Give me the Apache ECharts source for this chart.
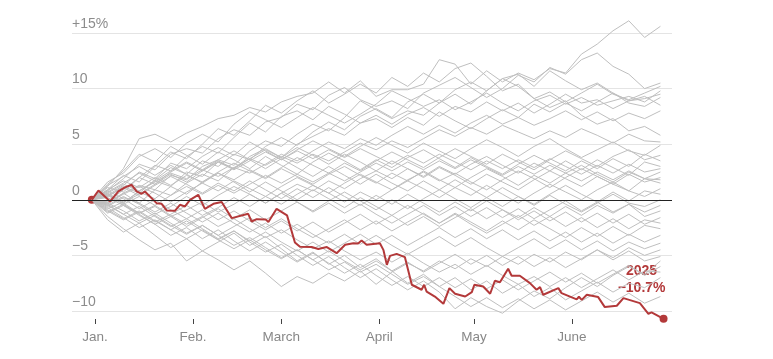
<!DOCTYPE html>
<html>
<head>
<meta charset="utf-8">
<style>html,body{margin:0;padding:0;background:#fff}#c{width:773px;height:359px}</style>
<script src="https://cdn.jsdelivr.net/npm/echarts@6/dist/echarts.min.js"></script>
</head>
<body>
<div id="c"></div>
<script>
// Day of year (0 = Dec 31 close, 1 = Jan 1)
const monthTickDays = [1, 32, 60, 91, 121, 152];
const monthLabels = ['Jan.', 'Feb.', 'March', 'April', 'May', 'June'];
const yTicks = [-10, -5, 0, 5, 10, 15];

// 2025 line
const redDays = [0,2.1,5.8,8.4,10.5,12.6,14.2,15.8,16.8,20.5,22.1,23.7,26.3,27.9,29.5,31.1,33.7,35.8,38.5,41.1,44.3,49.5,50.6,52.2,55.1,55.9,58.5,61.8,64.3,65.9,69.6,71.7,74.4,77.5,80.2,82.8,84.3,85.4,87.0,91.2,92.3,93.4,94.4,96.5,99.1,101.3,104.4,105.2,106.0,108.6,111.3,113.2,115.0,118.2,120.3,121.1,123.9,126.1,127.6,129.2,131.8,132.9,135.5,138.7,140.8,141.9,142.9,147.7,148.7,153.5,154.2,155.1,156.7,160.3,162.4,166.2,168.3,173.5,176.2,177.2,181];
const redValues = [0,0.84,-0.15,0.75,1.12,1.35,0.75,0.54,0.75,-0.3,-0.36,-0.96,-0.99,-0.45,-0.6,0,0.45,-0.81,-0.36,-0.2,-1.65,-1.26,-1.95,-1.74,-1.78,-2.0,-0.81,-1.4,-3.84,-4.23,-4.25,-4.43,-4.25,-4.8,-4.05,-3.9,-3.93,-3.66,-4.05,-3.9,-4.5,-5.85,-5.04,-4.86,-5.15,-7.64,-8.09,-7.64,-8.25,-8.7,-9.35,-7.94,-8.45,-8.7,-8.3,-7.64,-7.8,-8.45,-7.28,-7.42,-6.2,-6.83,-6.83,-7.49,-8.09,-7.85,-8.54,-7.94,-8.39,-8.95,-8.72,-9.0,-8.54,-8.75,-9.65,-9.53,-8.84,-9.29,-10.25,-10.13,-10.7];
const redYear = '2025';
const redFinal = -10.7;

// Earlier years, sampled every 5 days
const grayDays = [0,5,10,15,20,25,30,35,40,45,50,55,60,65,70,75,80,85,90,95,100,105,110,115,120,125,130,135,140,145,150,155,160,165,170,175,180];
const grayLines = [
[0,1.2,2.8,5.5,5.9,5.2,6.0,6.6,7.3,7.6,8.3,7.9,8.8,9.3,9.6,10.6,9.6,10.7,9.3,9.9,9.9,10.4,12.6,12.2,10.4,11.6,10.6,11.4,10.8,11.8,11.4,13.1,14.0,15.2,16.1,14.6,15.6],
[0,0.8,1.9,3.2,2.7,4.1,4.6,4.2,5.5,6.3,5.8,7.0,7.4,8.6,8.1,9.4,10.1,9.0,8.4,8.9,8.2,9.6,10.3,11.0,10.1,9.2,10.0,11.2,10.6,11.9,11.3,12.6,13.2,12.0,11.3,10.0,10.5],
[0,-0.4,0.6,1.3,0.9,2.2,1.8,3.0,3.6,3.1,4.4,5.3,4.8,5.9,6.8,6.2,7.4,8.9,8.1,7.3,8.0,7.6,8.7,9.5,8.6,9.8,10.9,10.2,9.1,9.7,8.8,9.6,10.4,9.5,9.0,9.6,10.2],
[0,1.6,2.4,3.9,4.6,3.8,5.1,5.9,5.2,6.8,7.9,7.2,6.5,7.4,8.3,7.6,6.9,7.7,8.6,9.8,9.1,8.4,9.0,8.1,8.8,9.6,8.7,8.0,8.9,9.4,8.6,9.2,8.5,8.9,9.3,8.8,9.8],
[0,0.5,-0.3,0.8,1.7,1.2,2.5,2.1,3.4,2.8,3.9,4.6,3.8,5.0,5.7,6.4,5.8,6.9,7.6,6.8,7.7,8.3,7.5,8.4,7.9,8.8,8.0,8.7,7.8,8.6,9.5,8.7,9.0,8.2,8.9,9.1,9.5],
[0,1.1,0.7,2.0,3.1,2.6,3.9,4.8,4.2,5.6,6.9,6.1,7.5,8.0,7.2,8.4,7.7,6.9,7.3,6.5,7.4,6.7,7.9,7.1,6.4,7.3,8.1,7.4,8.6,7.9,8.7,8.0,8.8,9.6,8.7,8.4,9.2],
[0,0.3,1.2,0.6,1.8,2.9,2.3,3.5,3.0,4.1,3.6,4.8,5.6,4.9,6.1,7.0,6.3,7.5,8.2,7.4,8.8,9.5,8.7,9.9,10.6,9.8,10.9,11.3,10.2,11.6,10.7,9.9,10.5,9.6,8.9,9.3,8.5],
[0,-0.6,0.2,-0.3,0.9,0.4,1.5,2.3,1.7,2.9,2.4,3.2,4.1,3.5,4.4,5.2,4.6,5.5,4.9,5.8,6.6,5.9,6.7,6.0,6.9,7.6,6.8,7.4,6.7,7.3,8.0,7.2,7.9,7.1,7.8,7.3,8.0],
[0,0.9,2.2,1.6,3.0,4.3,3.7,5.0,6.4,5.8,7.1,8.5,7.8,8.9,9.8,8.7,9.5,10.4,9.6,11.0,10.2,11.4,10.6,11.8,12.3,11.1,9.8,10.4,9.1,8.3,8.9,7.6,6.8,7.3,6.2,6.6,5.8],
[0,0.4,1.3,2.5,1.9,3.3,2.8,3.9,4.7,4.0,5.2,4.4,3.6,4.5,5.3,4.6,3.9,4.8,5.6,4.9,4.2,5.1,4.4,3.7,4.6,5.4,4.7,3.9,4.8,5.5,4.6,3.8,4.5,5.2,4.4,4.0,4.9],
[0,-0.8,-0.2,0.7,0.1,1.2,0.5,1.6,2.4,1.8,2.7,2.0,2.9,3.8,3.1,2.4,3.3,2.6,3.5,4.3,3.6,2.9,3.8,4.6,3.9,3.2,4.1,3.4,2.7,3.6,4.4,3.7,3.0,3.9,4.5,3.6,4.0],
[0,1.4,2.6,4.1,3.4,4.8,4.0,3.2,4.3,3.6,2.8,3.9,3.1,2.3,3.4,4.2,3.5,2.7,3.6,2.9,3.8,4.5,3.7,2.9,3.8,3.0,2.3,3.2,4.0,3.3,2.6,3.5,2.8,3.7,3.0,4.1,3.5],
[0,0.2,-0.5,-1.2,-0.6,-1.5,-0.9,-0.2,-1.1,-0.4,0.5,-0.3,0.6,1.4,0.8,1.7,1.0,1.9,2.6,1.9,2.8,2.1,3.0,2.3,3.2,3.9,3.1,2.4,3.3,2.6,3.5,2.7,3.6,2.9,2.2,3.4,3.0],
[0,0.9,1.7,1.1,2.0,1.3,2.2,1.6,2.5,3.3,2.6,1.9,2.8,2.1,1.4,2.3,3.0,2.2,1.5,2.4,1.7,2.6,1.8,1.1,2.0,2.8,2.1,1.3,2.2,1.5,2.4,3.1,2.3,1.6,2.5,1.9,2.5],
[0,-0.3,0.5,1.2,0.6,-0.2,0.7,1.5,0.8,1.7,1.0,0.3,1.2,2.0,1.3,0.6,1.5,2.3,1.6,0.9,1.8,2.5,1.7,2.4,1.6,0.9,1.8,2.6,1.9,1.1,2.0,2.8,2.1,1.4,2.3,1.6,2.0],
[0,0.6,-0.2,0.5,1.4,2.3,1.6,2.6,3.5,2.8,3.7,4.5,3.8,4.7,4.0,3.2,4.1,3.4,2.6,3.5,2.8,2.0,2.9,2.2,1.4,2.3,1.6,0.9,1.8,2.6,1.9,1.2,2.1,1.4,0.8,1.9,1.5],
[0,-1.0,-1.8,-1.1,-2.0,-1.3,-0.5,-1.4,-0.7,0.2,-0.6,0.3,-0.4,0.5,1.3,0.6,-0.2,0.7,0.0,0.9,1.7,1.0,0.2,1.1,0.4,1.3,0.5,-0.3,0.6,1.4,0.7,0.0,0.9,1.6,0.8,0.3,1.0],
[0,0.7,1.5,2.4,1.7,2.6,3.4,2.7,3.6,4.4,3.6,2.8,3.7,2.9,2.1,3.0,2.2,1.4,2.3,1.5,0.8,1.7,0.9,1.8,1.0,0.2,1.1,0.3,-0.4,0.5,1.3,0.5,-0.2,0.7,-0.1,0.8,0.5],
[0,-0.5,0.3,-0.4,-1.3,-0.6,0.3,-0.5,0.4,1.2,0.5,-0.3,0.6,-0.2,-1.0,-0.1,0.7,-0.1,-0.9,0.0,-0.8,0.1,0.9,0.1,-0.7,0.2,-0.6,0.3,-0.5,0.4,-0.4,-1.1,-0.3,0.5,-0.3,-0.6,0.0],
[0,0.3,1.1,0.4,1.3,2.1,1.4,0.6,1.5,0.8,1.7,0.9,0.1,1.0,0.2,1.1,0.3,-0.5,0.4,-0.4,0.5,-0.3,-1.1,-0.2,-1.0,-0.1,-0.9,-1.6,-0.7,-1.5,-0.6,-1.4,-0.5,-1.2,-0.4,-1.1,-0.5],
[0,-1.2,-0.5,-1.4,-2.2,-1.5,-2.4,-1.6,-0.8,-1.7,-0.9,-1.8,-1.0,-0.2,-1.1,-0.3,-1.2,-0.4,-1.3,-2.1,-1.3,-0.5,-1.4,-0.6,-1.5,-0.7,-1.6,-0.8,-1.7,-0.9,-0.1,-1.0,-0.2,-1.1,-0.4,-1.5,-1.0],
[0,0.8,0.1,-0.8,0.0,-0.9,-1.7,-0.9,-1.8,-1.0,-1.9,-2.7,-1.9,-2.8,-2.0,-2.9,-2.1,-1.3,-2.2,-1.4,-2.3,-1.5,-2.4,-1.6,-0.8,-1.7,-0.9,-1.8,-1.0,-1.9,-1.1,-2.0,-1.2,-2.1,-1.3,-2.2,-1.6],
[0,-0.4,-1.3,-2.1,-1.4,-2.3,-3.1,-2.3,-3.2,-2.4,-1.6,-2.5,-1.7,-2.6,-3.4,-2.6,-1.8,-2.7,-1.9,-2.8,-2.0,-1.2,-2.1,-1.3,-2.2,-3.0,-2.2,-1.4,-2.3,-1.5,-2.4,-1.6,-2.5,-1.7,-2.6,-1.8,-2.1],
[0,1.3,2.1,3.0,2.2,3.1,2.3,1.5,2.4,1.6,0.7,1.6,0.8,0.0,0.9,0.1,-0.7,0.2,-0.6,-1.4,-0.5,-1.3,-2.1,-1.2,-2.0,-2.8,-1.9,-2.7,-1.8,-2.6,-3.4,-2.5,-3.3,-2.4,-3.2,-2.3,-2.6],
[0,-0.9,-1.7,-1.0,-1.9,-2.7,-1.9,-2.8,-3.6,-2.8,-3.7,-2.9,-3.8,-4.6,-3.8,-4.7,-3.9,-3.1,-4.0,-3.2,-4.1,-3.3,-2.5,-3.4,-2.6,-3.5,-2.7,-3.6,-2.8,-3.7,-2.9,-3.8,-3.0,-3.9,-3.1,-3.8,-3.2],
[0,-0.2,0.6,-0.3,-1.1,-0.3,-1.2,-2.0,-1.2,-2.1,-2.9,-2.1,-3.0,-2.2,-3.1,-3.9,-3.1,-4.0,-3.2,-4.1,-4.9,-4.1,-3.3,-4.2,-3.4,-4.3,-5.1,-4.3,-3.5,-4.4,-3.6,-4.5,-3.7,-4.6,-3.8,-4.4,-3.9],
[0,-1.5,-2.6,-3.6,-4.5,-3.9,-5.5,-4.6,-5.4,-6.3,-5.5,-6.6,-7.8,-6.9,-7.5,-6.6,-7.3,-6.4,-7.6,-6.5,-5.7,-6.4,-5.5,-6.2,-5.3,-6.0,-5.1,-5.8,-4.9,-5.6,-4.7,-5.4,-4.5,-5.2,-4.3,-5.0,-4.5],
[0,-0.7,-1.6,-2.5,-1.8,-2.7,-3.5,-2.7,-3.6,-4.4,-3.6,-4.5,-5.3,-4.5,-5.4,-4.6,-5.5,-6.3,-5.5,-6.4,-5.6,-6.5,-5.7,-4.9,-5.8,-5.0,-5.9,-5.1,-6.0,-5.2,-6.1,-5.3,-4.5,-5.4,-4.6,-5.5,-5.1],
[0,-0.5,-1.3,-0.6,-1.5,-2.4,-1.7,-2.6,-3.5,-2.8,-3.8,-4.7,-4.0,-5.0,-5.9,-5.1,-6.1,-7.0,-6.2,-7.2,-8.1,-7.3,-8.3,-9.8,-8.8,-9.6,-10.2,-9.1,-8.2,-8.9,-7.9,-7.0,-7.8,-6.8,-6.0,-6.7,-5.5],
[0,-1.1,-0.4,-1.3,-2.2,-3.2,-2.5,-3.5,-2.7,-3.7,-4.6,-3.8,-4.7,-5.6,-4.8,-5.7,-6.6,-5.8,-6.8,-7.7,-6.9,-7.8,-7.0,-7.9,-7.1,-8.0,-7.2,-8.1,-7.3,-6.5,-7.4,-6.6,-7.5,-6.7,-5.9,-6.8,-6.0],
[0,0.5,-0.3,-1.2,-0.5,-1.4,-2.2,-1.5,-2.4,-1.7,-2.6,-3.4,-2.7,-3.6,-4.4,-3.7,-4.6,-5.4,-4.7,-5.6,-4.8,-5.7,-6.5,-5.8,-6.7,-5.9,-6.8,-7.6,-6.9,-7.8,-7.0,-7.9,-7.1,-6.3,-7.2,-6.4,-6.5],
[0,-1.8,-2.9,-2.1,-3.2,-4.3,-3.5,-4.6,-3.8,-3.0,-4.1,-3.3,-4.4,-5.5,-4.7,-5.8,-5.0,-6.1,-5.3,-6.4,-7.5,-6.7,-7.8,-7.0,-8.1,-7.3,-8.4,-7.6,-8.7,-7.9,-9.0,-8.2,-7.4,-8.3,-7.5,-7.9,-7.0],
[0,-0.3,-1.0,-1.9,-1.2,-2.1,-3.0,-2.3,-3.2,-4.1,-3.4,-4.3,-5.2,-4.5,-5.4,-6.3,-5.6,-6.5,-5.8,-6.7,-7.6,-6.9,-7.8,-8.7,-9.6,-8.8,-9.7,-8.9,-9.8,-9.0,-9.9,-9.1,-8.3,-9.2,-8.4,-9.3,-8.7],
[0,0.6,1.4,0.8,1.6,2.4,1.9,2.7,2.1,2.9,3.7,3.1,3.9,3.3,4.1,3.5,4.3,5.1,4.5,5.3,4.7,5.5,6.3,5.7,6.5,5.9,6.7,6.1,5.5,6.2,5.6,6.4,5.8,5.1,5.9,5.3,5.2],
[0,-0.2,0.9,2.0,1.4,2.5,3.3,2.6,3.4,2.7,3.5,4.3,3.6,4.4,3.7,4.5,3.8,4.6,3.9,3.2,4.0,3.3,4.1,3.4,2.7,3.5,2.8,3.6,2.9,3.7,3.0,2.3,3.1,2.4,3.2,2.5,2.8],
[0,0.4,-0.4,0.3,-0.5,0.4,1.2,0.5,1.3,0.6,1.4,2.2,1.5,2.3,1.6,2.4,1.7,2.5,3.3,2.6,3.4,2.7,3.5,2.8,3.6,2.9,2.2,3.0,2.3,3.1,2.4,1.7,2.5,1.8,2.6,1.9,1.8]
];

const RED = '#b3393a';
const GRAY = '#bfbfbf';
const FONT = '"Liberation Sans", Arial, sans-serif';

const series = grayLines.map(vals => ({
  type: 'line',
  data: grayDays.map((d, i) => [d, vals[i]]),
  showSymbol: false,
  symbol: 'none',
  clip: false,
  silent: true,
  lineStyle: { color: GRAY, width: 1 }
}));
// zero line on top of gray lines
series[series.length - 1].markLine = {
  silent: true,
  symbol: ['none', 'none'],
  label: { show: false },
  lineStyle: { color: '#222', width: 1, type: 'solid' },
  data: [{ yAxis: 0 }]
};

const lastIdx = redDays.length - 1;
series.push({
  type: 'line',
  data: redDays.map((d, i) => [d, redValues[i]]),
  showSymbol: false,
  symbol: 'none',
  clip: false,
  silent: true,
  lineStyle: { color: RED, width: 2 }
});
// start and end dots, with the final label
series.push({
  type: 'scatter',
  clip: false,
  silent: true,
  symbol: 'circle',
  symbolSize: 8,
  itemStyle: { color: RED, opacity: 1 },
  data: [
    { value: [redDays[0], redValues[0]], label: { show: false } },
    {
      value: [redDays[lastIdx], redValues[lastIdx]],
      label: {
        show: true,
        position: 'inside',
        offset: [-22, -39],
        formatter: redYear + '\n\u2212' + Math.abs(redFinal).toFixed(1) + '%',
        color: RED,
        opacity: 1,
        fontWeight: 'bold',
        fontSize: 14,
        lineHeight: 17,
        align: 'center',
        fontFamily: FONT,
        textBorderColor: '#fff',
        textBorderWidth: 3
      }
    }
  ]
});

const chart = echarts.init(document.getElementById('c'), null, { renderer: 'canvas' });
chart.setOption({
  animation: false,
  backgroundColor: '#fff',
  grid: { left: 72, right: 101, top: 33, bottom: 48, containLabel: false },
  xAxis: {
    type: 'value',
    min: -6.27,
    max: 183.67,
    offset: 8,
    splitLine: { show: false },
    axisLine: { show: false, onZero: false },
    axisTick: { show: true, length: 5, customValues: monthTickDays, lineStyle: { color: '#444', width: 1 } },
    axisLabel: {
      customValues: monthTickDays,
      formatter: v => monthLabels[monthTickDays.indexOf(Math.round(v))] || '',
      color: '#888',
      fontSize: 13.5,
      margin: 11,
      fontFamily: FONT
    }
  },
  yAxis: {
    type: 'value',
    min: yTicks[0],
    max: yTicks[yTicks.length - 1],
    interval: 5,
    axisLine: { show: false },
    axisTick: { show: false },
    splitLine: { show: true, lineStyle: { color: '#e4e4e4', width: 1 } },
    axisLabel: {
      inside: true,
      margin: 0,
      align: 'left',
      verticalAlign: 'bottom',
      padding: [0, 0, 2, 0],
      color: '#8c8c8c',
      fontSize: 14,
      fontFamily: FONT,
      formatter: v => v === 15 ? '+15%' : (v < 0 ? '\u2212' + Math.abs(v) : String(v))
    }
  },
  series: series
});
</script>
</body>
</html>
